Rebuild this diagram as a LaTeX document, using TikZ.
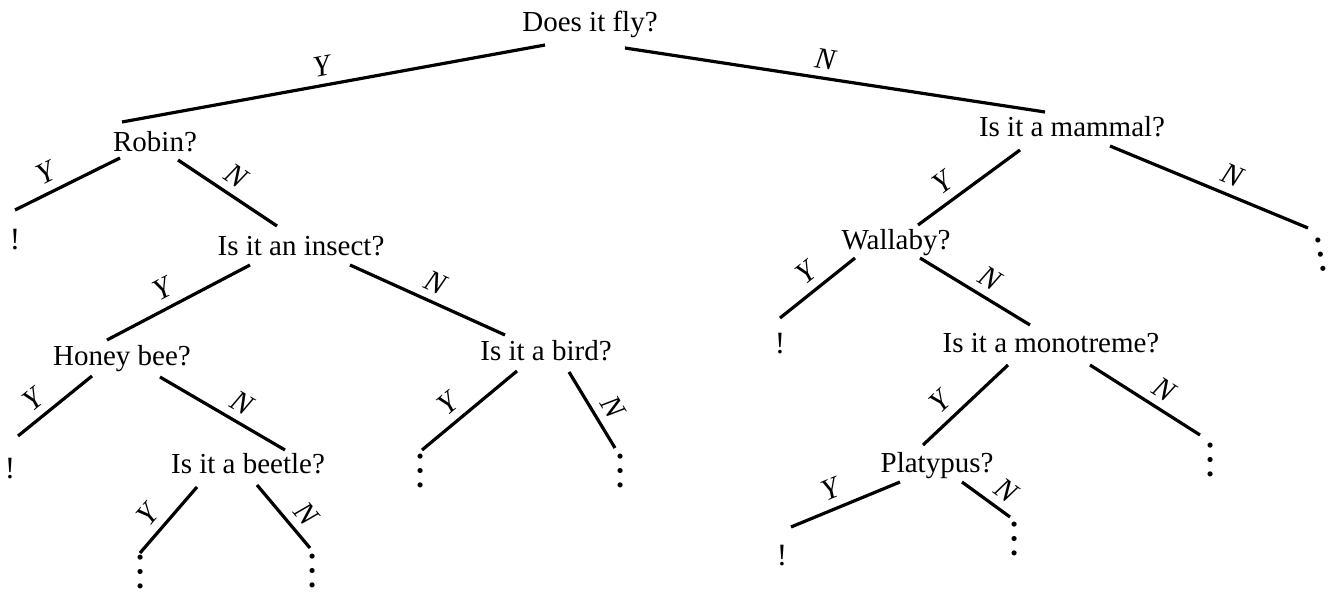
\documentclass[tikz,border=0pt]{standalone}
\usepackage{fontspec}
\setmainfont{Liberation Serif}
\begin{document}
\begin{tikzpicture}[x=1pt,y=-1pt,
  q/.style={anchor=base,inner sep=0pt,font=\fontsize{29}{34}\selectfont},
  bang/.style={anchor=base,inner sep=0pt,font=\fontsize{31}{34}\selectfont},
  more/.style={anchor=base east,inner sep=0pt,rotate=90,font=\fontsize{43}{46}\selectfont},
  edge/.style={line width=3.2pt},
  lab/.style={sloped,above,inner sep=8pt,font=\fontsize{30}{34}\selectfont\itshape}]
\useasboundingbox (0,0) rectangle (1340,593);
\newcommand{\moredots}{…\kern-0.12em}
% questions
\node[q] (fly) at (590,32) {Does it fly?};
\node[q] (robin) at (155,152) {Robin?};
\node[q] (mammal) at (1072,137) {Is it a mammal?};
\node[q] (insect) at (301,256) {Is it an insect?};
\node[q] (wallaby) at (896,250) {Wallaby?};
\node[q] (honey) at (122,365) {Honey bee?};
\node[q] (bird) at (546,360) {Is it a bird?};
\node[q] (mono) at (1051,352) {Is it a monotreme?};
\node[q] (beetle) at (248,473) {Is it a beetle?};
\node[q] (platy) at (937,472) {Platypus?};
% leaves
\node[bang] (l1) at (15,250) {!};
\node[bang] (l2) at (10,478) {!};
\node[bang] (l3) at (780,353) {!};
\node[bang] (l4) at (782,565) {!};
\node[more] (d1) at (142,555) {\moredots};
\node[more] (d2) at (314,554) {\moredots};
\node[more] (d3) at (422,454) {\moredots};
\node[more] (d4) at (622,454) {\moredots};
\node[more,rotate=10] (d5) at (1320,238) {\moredots};
\node[more] (d6) at (1212,443) {\moredots};
\node[more] (d7) at (1016,522) {\moredots};
% edges
\draw[edge] ([shift={(-45,13)}]fly.base) -- node[lab,pos=0.52]{Y} ([shift={(-33,-30)}]robin.base);
\draw[edge] ([shift={(35,16)}]fly.base) -- node[lab,pos=0.47]{N} ([shift={(-27,-25)}]mammal.base);
\draw[edge] ([shift={(-35,6)}]robin.base) -- node[lab,pos=0.63]{Y} ([shift={(0,-40)}]l1.base);
\draw[edge] ([shift={(23,8)}]robin.base) -- node[lab,pos=0.48]{N} ([shift={(-24,-30)}]insect.base);
\draw[edge] ([shift={(-51,9)}]insect.base) -- node[lab,pos=0.55]{Y} ([shift={(-15,-25)}]honey.base);
\draw[edge] ([shift={(49,9)}]insect.base) -- node[lab,pos=0.5]{N} ([shift={(-41,-25)}]bird.base);
\draw[edge] ([shift={(-30,11)}]honey.base) -- node[lab,pos=0.64]{Y} ([shift={(8,-42)}]l2.base);
\draw[edge] ([shift={(38,12)}]honey.base) -- node[lab,pos=0.58]{N} ([shift={(37,-23)}]beetle.base);
\draw[edge] ([shift={(-51,14)}]beetle.base) -- node[lab,pos=0.61]{Y} ([shift={(-2,-2)}]d1.base east);
\draw[edge] ([shift={(9,12)}]beetle.base) -- node[lab,pos=0.66]{N} ([shift={(-4,-6)}]d2.base east);
\draw[edge] ([shift={(-29,11)}]bird.base) -- node[lab,pos=0.6]{Y} ([shift={(0,-4)}]d3.base east);
\draw[edge] ([shift={(23,12)}]bird.base) -- node[lab,pos=0.59]{N} ([shift={(-7,-6)}]d4.base east);
\draw[edge] ([shift={(-52,13)}]mammal.base) -- node[lab,pos=0.65]{Y} ([shift={(22,-25)}]wallaby.base);
\draw[edge] ([shift={(38,9)}]mammal.base) -- node[lab,pos=0.58]{N} ([shift={(-12,-10)}]d5.base east);
\draw[edge] ([shift={(-41,8)}]wallaby.base) -- node[lab,pos=0.49]{Y} ([shift={(0,-35)}]l3.base);
\draw[edge] ([shift={(24,8)}]wallaby.base) -- node[lab,pos=0.55]{N} ([shift={(-21,-27)}]mono.base);
\draw[edge] ([shift={(-43,13)}]mono.base) -- node[lab,pos=0.64]{Y} ([shift={(-14,-27)}]platy.base);
\draw[edge] ([shift={(39,13)}]mono.base) -- node[lab,pos=0.58]{N} ([shift={(-12,-8)}]d6.base east);
\draw[edge] ([shift={(-37,10)}]platy.base) -- node[lab,pos=0.57]{Y} ([shift={(9,-38)}]l4.base);
\draw[edge] ([shift={(25,10)}]platy.base) -- node[lab,pos=0.69]{N} ([shift={(-6,-5)}]d7.base east);
\end{tikzpicture}
\end{document}
